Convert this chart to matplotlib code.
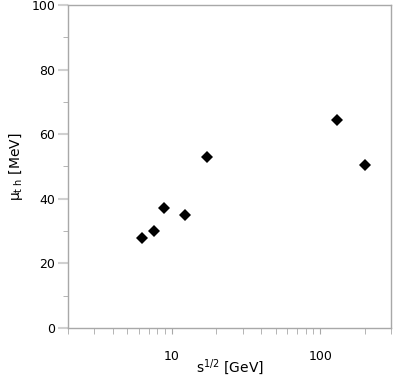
import matplotlib.pyplot as plt
from matplotlib.ticker import LogLocator, MultipleLocator, NullFormatter, FixedLocator

# sqrt(s) in GeV and threshold chemical potential in MeV
sqrt_s = [6.3, 7.6, 8.8, 12.3, 17.3, 130, 200]
mu_th = [28, 30, 37, 35, 53, 64.5, 50.5]

plt.rcParams['font.family'] = ['DejaVu Sans']
plt.rcParams['font.size'] = 9
plt.rcParams['mathtext.default'] = 'regular'

fig = plt.figure(figsize=(3.93, 3.81), dpi=100)
ax = fig.add_axes([0.173, 0.139, 0.822, 0.848])

ax.plot(sqrt_s, mu_th, 'D', color='black', ms=5.8, mew=0)

ax.set_xscale('log')
ax.set_xlim(2, 300)
ax.set_ylim(0, 100)

ax.xaxis.set_major_locator(FixedLocator([10, 100]))
ax.xaxis.set_major_formatter(plt.FuncFormatter(lambda v, p: f'{v:g}'))
ax.xaxis.set_minor_locator(LogLocator(base=10, subs=range(2, 10)))
ax.xaxis.set_minor_formatter(NullFormatter())
ax.yaxis.set_major_locator(MultipleLocator(20))
ax.yaxis.set_minor_locator(MultipleLocator(10))

gray = '#a8a8a8'
for s in ax.spines.values():
    s.set_color(gray)
    s.set_linewidth(1)

ax.tick_params(axis='x', which='both', direction='out', color=gray, length=4, pad=11.5, labelsize=9)
ax.tick_params(axis='y', which='major', direction='out', color='#d0d0d0', length=7, width=1.5, pad=2, labelsize=9)
ax.tick_params(axis='y', which='minor', direction='out', color=gray, length=3.6)

ax.set_xlabel('s$^{1/2}$ [GeV]', fontsize=10)
ax.xaxis.set_label_coords(0.5, -0.09)
ax.set_ylabel('$\\mu_{t\\ h}$ [MeV]', fontsize=10, labelpad=5)

fig.savefig('out.png', dpi=100)
